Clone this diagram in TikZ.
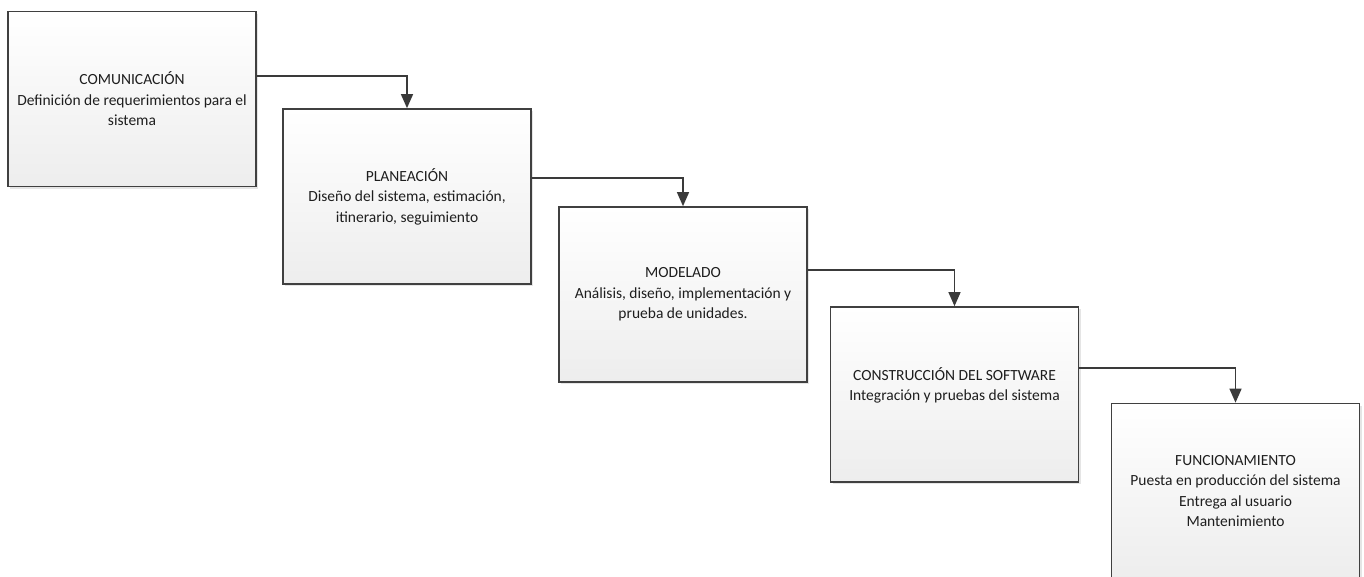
\documentclass[tikz,border=0pt]{standalone}
\usepackage{fontspec}
\setmainfont{Carlito}
\usetikzlibrary{arrows.meta,shadows}

\definecolor{edge}{HTML}{404040}
\definecolor{wire}{HTML}{3A3A3A}
\definecolor{ink}{HTML}{1E1E1E}

\tikzset{
  phase/.style={
    draw=edge, line width=1.7pt, rectangle, inner sep=0pt,
    minimum width=248pt, minimum height=175pt,
    top color=white, bottom color=black!7,
    drop shadow={shadow xshift=2pt, shadow yshift=-2pt, opacity=0.1, fill=black},
    align=center, text=ink,
    font=\fontsize{15.5}{20.5}\selectfont
  },
  flow/.style={
    draw=wire, line width=1.4pt,
    -{Triangle[width=12pt,length=14pt]}
  }
}

\begin{document}
\begin{tikzpicture}[x=1pt,y=-1pt]
  \useasboundingbox (0,0) rectangle (1364,576);

  % waterfall phases
  \node[phase] (b1) at (132,99)
    {COMUNICACIÓN\\Definición de requerimientos para el\\sistema};
  \node[phase] (b2) at (407,196.5)
    {PLANEACIÓN\\Diseño del sistema, estimación,\\itinerario, seguimiento};
  \node[phase] (b3) at (683,294.5)
    {MODELADO\\Análisis, diseño, implementación y\\prueba de unidades.};
  \node[phase] (b4) at (954.5,394.5)
    {CONSTRUCCIÓN DEL SOFTWARE\\Integración y pruebas del sistema\\\mbox{}};
  \node[phase] (b5) at (1235.5,491)
    {FUNCIONAMIENTO\\Puesta en producción del sistema\\Entrega al usuario\\Mantenimiento};

  % elbow connectors between consecutive phases
  \draw[flow] (b1.east |- 0,76)  -| (b2.north);
  \draw[flow] (b2.east |- 0,178) -| (b3.north);
  \draw[flow] (b3.east |- 0,270) -| (b4.north);
  \draw[flow] (b4.east |- 0,368) -| (b5.north);
\end{tikzpicture}
\end{document}
